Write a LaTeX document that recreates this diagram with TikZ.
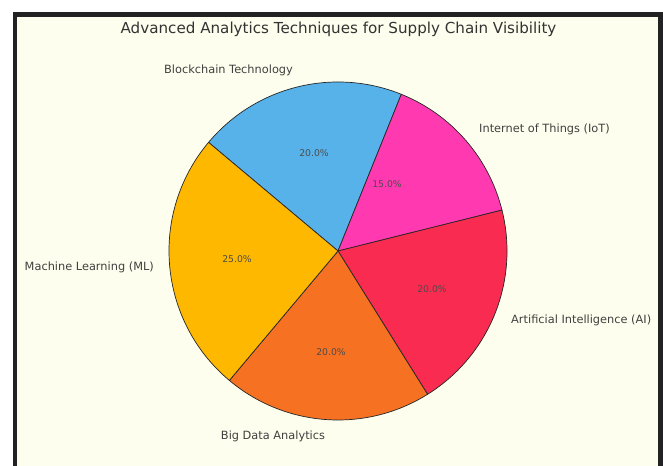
\documentclass[tikz,border=0pt]{standalone}
\usepackage{fontspec}
\setmainfont{DejaVu Sans}
\definecolor{bgivory}{RGB}{254,254,238}
\definecolor{frame}{RGB}{34,34,34}
\definecolor{cBC}{RGB}{88,178,234}
\definecolor{cIoT}{RGB}{255,58,176}
\definecolor{cAI}{RGB}{249,43,80}
\definecolor{cBD}{RGB}{246,113,34}
\definecolor{cML}{RGB}{255,184,0}
\definecolor{txt}{RGB}{64,64,64}
\tikzset{
  slice/.style={draw=black!85, line width=0.7bp, line join=round},
  pct/.style={font=\fontsize{9.3}{11}\selectfont, text=black!70, inner sep=0pt},
  lbl/.style={font=\fontsize{11.4}{13}\selectfont, text=txt, inner sep=0pt},
  ttl/.style={font=\fontsize{15.2}{18}\selectfont, text=black!80, inner sep=0pt}
}
\begin{document}
\begin{tikzpicture}[x=1bp,y=1bp]
\useasboundingbox (0,0) rectangle (663,466);
\clip (0,0) rectangle (663,466);
\fill[white] (0,0) rectangle (663,466);
\draw[fill=bgivory, draw=frame, line width=4.6bp] (15,-10) rectangle (660.6,451.5);
\coordinate (c) at (338,215);
\def\R{169}
\filldraw[slice, fill=cBC]  (c) -- ++(140:\R) arc[start angle=140, end angle=68, radius=\R] -- cycle;
\filldraw[slice, fill=cIoT] (c) -- ++(68:\R) arc[start angle=68, end angle=14, radius=\R] -- cycle;
\filldraw[slice, fill=cAI]  (c) -- ++(14:\R) arc[start angle=14, end angle=-58, radius=\R] -- cycle;
\filldraw[slice, fill=cBD]  (c) -- ++(-58:\R) arc[start angle=-58, end angle=-130, radius=\R] -- cycle;
\filldraw[slice, fill=cML]  (c) -- ++(-130:\R) arc[start angle=-130, end angle=-220, radius=\R] -- cycle;
\node[ttl] (title) at (338.5,437) {Advanced Analytics Techniques for Supply Chain Visibility};
\node[lbl] (lbc) at (228.5,396) {Blockchain Technology};
\node[lbl, anchor=west] (liot) at (479,337) {Internet of Things (IoT)};
\node[lbl, anchor=east] (lml) at (154,199) {Machine Learning (ML)};
\node[lbl, anchor=west] (lai) at (511,146) {Artificial Intelligence (AI)};
\node[lbl] (lbd) at (273,30) {Big Data Analytics};
\node[pct] (pbc) at (314,313) {20.0\%};
\node[pct] (piot) at (387,282) {15.0\%};
\node[pct] (pai) at (432,177) {20.0\%};
\node[pct] (pbd) at (331,114) {20.0\%};
\node[pct] (pml) at (237,207) {25.0\%};
\end{tikzpicture}
\end{document}
